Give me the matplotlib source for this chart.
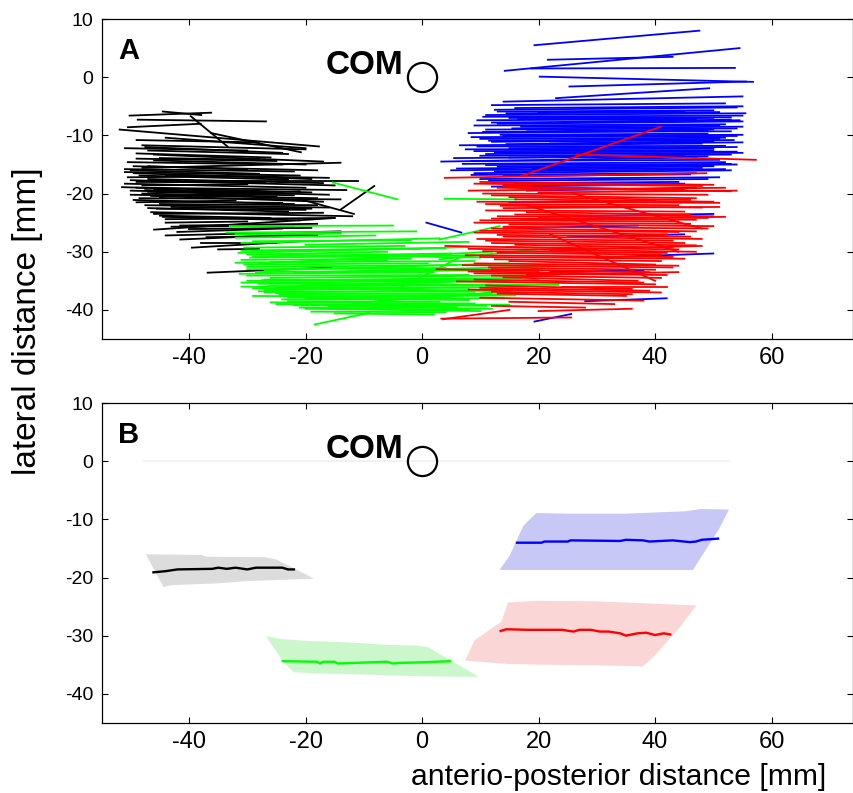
import matplotlib
matplotlib.use("Agg")
import matplotlib.pyplot as plt

plt.rcParams['font.family'] = ['Liberation Sans', 'DejaVu Sans']
plt.rcParams['axes.unicode_minus'] = False

# panel A: single trajectories (x_start, y_start, x_end, y_end) in mm
black_paths = [
    (-50.2, -6.6, -36.2, -6.1), (-44.5, -5.9, -37.9, -6.5), (-48.8, -7.3, -26.8, -7.6),
    (-50.5, -8.6, -38.0, -8.0), (-39.7, -6.7, -33.4, -11.9), (-36.2, -9.6, -20.8, -12.9),
    (-51.9, -9.0, -17.7, -11.9), (-49.0, -10.8, -28.0, -11.2), (-48.0, -11.7, -20.0, -12.4),
    (-47.0, -12.6, -23.0, -13.2), (-46.0, -13.3, -17.0, -14.5), (-49.0, -14.0, -25.0, -14.4),
    (-48.0, -15.6, -14.0, -14.7), (-51.0, -15.8, -22.0, -16.2), (-49.5, -16.5, -19.0, -17.5),
    (-50.5, -17.2, -25.0, -17.0), (-48.0, -17.8, -11.0, -17.8), (-51.0, -18.3, -20.0, -19.0),
    (-49.0, -19.0, -13.0, -19.4), (-47.0, -19.7, -22.0, -20.3), (-50.0, -20.2, -18.0, -20.8),
    (-48.5, -20.8, -14.0, -21.0), (-46.0, -21.4, -24.0, -21.6), (-47.5, -22.0, -16.0, -22.4),
    (-45.5, -22.6, -20.0, -22.8), (-46.5, -23.2, -12.0, -23.9), (-45.0, -23.8, -26.0, -24.2),
    (-44.0, -24.4, -15.0, -24.2), (-41.5, -25.5, -18.0, -25.2), (-46.0, -26.2, -15.0, -24.2),
    (-44.0, -27.2, -14.0, -26.5), (-41.5, -27.9, -14.0, -26.7), (-39.5, -29.3, -21.0, -28.2),
    (-36.8, -33.6, -15.6, -32.7), (-13.9, -22.7, -8.2, -18.7), (-20.8, -21.0, -11.7, -23.5),
    (-50.0, -16.0, -28.0, -16.6), (-48.0, -18.6, -30.0, -18.4), (-46.0, -19.3, -26.0, -19.8),
    (-49.0, -21.5, -32.0, -21.2), (-47.0, -15.3, -30.0, -15.9), (-45.0, -13.9, -28.0, -14.2),
    (-44.0, -25.0, -30.0, -24.8), (-43.0, -22.3, -19.0, -22.6), (-47.0, -17.5, -17.0, -18.2),
    (-45.0, -20.6, -21.0, -19.6), (-42.0, -26.6, -24.0, -26.0), (-49.0, -13.1, -26.0, -13.8),
    (-44.0, -16.8, -16.0, -17.3),
    (-50.5, -14.6, -24.0, -15.0), (-49.5, -15.3, -18.0, -16.0), (-51.0, -16.3, -21.0, -16.9),
    (-48.5, -16.9, -23.0, -17.6), (-50.0, -17.7, -15.0, -18.6), (-49.0, -18.0, -27.0, -18.1),
    (-51.5, -18.9, -19.0, -19.8), (-47.5, -19.4, -16.0, -20.2), (-48.0, -20.0, -25.0, -20.5),
    (-46.5, -20.4, -17.0, -21.4), (-49.5, -21.1, -22.0, -21.8), (-45.0, -21.8, -18.0, -22.0),
    (-47.0, -22.5, -23.0, -23.1), (-46.0, -23.5, -17.0, -23.3), (-44.5, -24.0, -21.0, -24.6),
    (-43.0, -25.7, -22.0, -25.5), (-40.0, -26.1, -19.0, -25.9), (-37.0, -27.5, -18.0, -27.2),
    (-38.0, -28.5, -25.0, -28.5), (-35.0, -29.6, -28.0, -29.5), (-51.0, -12.2, -30.0, -12.6),
    (-47.5, -12.0, -24.0, -13.0), (-44.0, -10.4, -20.0, -12.2), (-46.0, -14.3, -20.0, -15.0),
    (-50.0, -19.5, -30.0, -20.0),
]
green_paths = [
    (-33.5, -26.7, -1.0, -26.5), (-33.0, -25.6, -5.0, -25.5), (-32.0, -27.6, -8.0, -27.2),
    (-31.0, -28.5, 3.0, -27.7), (-30.5, -29.3, -3.0, -29.0), (-31.5, -30.2, 8.0, -29.2),
    (-29.0, -30.8, 5.0, -30.3), (-31.0, -31.4, -2.0, -31.2), (-28.0, -32.0, 12.0, -30.0),
    (-30.0, -32.6, 6.0, -32.3), (-27.0, -33.2, 15.0, -32.0), (-31.3, -33.8, 2.0, -33.5),
    (-26.0, -34.5, 23.0, -34.0), (-30.0, -35.0, 10.0, -34.7), (-28.0, -35.5, 23.4, -35.7),
    (-31.0, -36.0, 8.0, -36.2), (-27.0, -36.6, 18.0, -36.0), (-25.0, -37.1, 12.0, -37.3),
    (-29.0, -37.6, 5.0, -37.8), (-24.0, -38.2, 14.0, -38.0), (-26.0, -38.7, 9.0, -38.9),
    (-22.0, -39.2, 6.0, -39.5), (-20.0, -39.8, 10.0, -40.2), (-18.4, -42.5, -9.0, -40.5),
    (-15.0, -40.6, 2.0, -40.8), (-4.4, -36.5, 7.0, -30.7), (3.0, -27.9, 13.3, -25.6),
    (3.0, -31.3, 19.6, -29.6), (-15.3, -18.1, -4.2, -21.0), (3.9, -20.9, 16.2, -21.0),
    (-28.0, -29.8, 0.0, -29.5), (-26.0, -31.8, 9.0, -31.6), (-30.0, -33.0, 4.0, -32.8),
    (-27.0, -34.8, 14.0, -35.0), (-29.0, -36.3, 0.0, -36.5), (-23.0, -37.9, 16.0, -37.5),
    (-21.0, -35.8, 20.0, -34.8), (-12.0, -39.0, 15.0, -39.1), (-8.0, -38.5, 12.0, -37.0),
    (-32.0, -31.9, -6.0, -31.5), (-25.0, -30.5, 10.0, -31.0), (-20.0, -28.8, 8.0, -28.3),
    (-31.0, -29.8, 4.0, -29.4), (-29.5, -31.0, 9.0, -30.6), (-30.5, -32.2, 1.0, -32.0),
    (-28.5, -33.5, 12.0, -33.2), (-30.0, -34.1, 8.0, -34.0), (-27.5, -34.9, 17.0, -34.5),
    (-31.0, -35.3, 5.0, -35.1), (-26.5, -35.9, 13.0, -35.8), (-28.0, -36.8, 9.0, -36.9),
    (-24.5, -37.4, 7.0, -37.5), (-27.0, -37.0, 20.0, -36.5), (-23.0, -38.5, 3.0, -38.6),
    (-25.0, -39.0, 11.0, -39.3), (-21.0, -39.6, 8.0, -40.0), (-19.0, -40.3, 4.0, -40.4),
    (-29.0, -28.2, -2.0, -28.0), (-32.0, -27.0, -14.0, -26.9), (-30.0, -30.5, -6.0, -30.0),
    (-22.0, -33.6, 22.0, -32.5), (-25.0, -36.2, 15.0, -36.8), (-20.0, -38.0, 8.0, -38.3),
    (-16.0, -39.4, 12.0, -39.8), (-10.0, -37.8, 18.0, -37.2),
]
blue_paths = [
    (19.3, 5.5, 47.6, 8.0), (21.6, 3.0, 43.0, 3.5), (14.2, 1.1, 54.5, 5.0),
    (20.2, 0.1, 56.8, -0.8), (18.8, 1.5, 53.7, 1.6), (25.3, -1.6, 55.6, -0.75),
    (23.0, -3.6, 49.3, -1.9), (14.0, -4.2, 55.0, -3.3), (12.0, -4.8, 52.0, -4.5),
    (16.0, -5.3, 55.0, -5.0), (13.0, -5.9, 50.0, -5.7), (11.0, -6.5, 55.5, -6.2),
    (15.0, -7.0, 53.0, -6.9), (9.5, -7.4, 47.0, -7.2), (13.0, -8.0, 55.0, -7.6),
    (17.0, -8.5, 51.0, -8.3), (11.0, -9.0, 54.0, -8.8), (8.0, -9.6, 49.0, -9.2),
    (14.0, -10.1, 55.0, -9.9), (10.0, -10.6, 52.0, -10.4), (12.0, -11.1, 53.5, -10.8),
    (6.5, -11.7, 48.0, -11.4), (15.0, -12.2, 54.0, -12.0), (9.0, -12.7, 50.0, -12.6),
    (11.0, -13.2, 55.0, -13.0), (3.3, -14.5, 47.0, -13.8), (7.0, -14.9, 52.0, -14.6),
    (13.0, -15.4, 54.0, -15.0), (5.0, -16.0, 48.0, -15.6), (9.0, -16.5, 53.0, -16.0),
    (14.0, -17.0, 46.0, -16.7), (10.0, -17.5, 51.0, -17.2), (16.0, -18.2, 44.0, -18.0),
    (12.0, -18.8, 40.0, -18.5), (18.0, -19.5, 47.0, -19.0), (15.0, -21.5, 40.0, -21.2),
    (20.0, -24.0, 50.0, -23.5), (25.0, -27.5, 45.0, -27.0), (14.0, -26.0, 37.0, -25.5),
    (30.0, -31.0, 50.0, -30.3), (22.0, -33.5, 38.0, -33.2), (19.3, -42.0, 25.6, -40.7),
    (0.75, -25.0, 6.75, -26.7), (28.0, -38.5, 42.0, -38.0), (20.0, -6.0, 45.0, -5.8),
    (18.0, -9.3, 50.0, -9.0), (22.0, -11.4, 50.0, -11.0), (15.0, -13.8, 45.0, -13.5),
    (24.0, -7.7, 53.0, -7.3), (19.0, -15.7, 50.0, -15.2),
    (12.5, -5.6, 54.0, -5.2), (14.5, -6.2, 51.0, -6.0), (10.5, -6.8, 55.0, -6.6),
    (16.5, -7.2, 50.0, -7.0), (12.0, -7.8, 54.5, -7.4), (9.0, -8.3, 52.0, -8.1),
    (15.5, -8.8, 55.0, -8.5), (10.5, -9.4, 53.0, -9.3), (13.5, -9.9, 49.0, -9.7),
    (8.5, -10.3, 54.0, -10.1), (11.5, -10.9, 51.0, -10.6), (14.5, -11.5, 55.0, -11.2),
    (9.5, -11.9, 52.0, -11.8), (7.5, -12.4, 50.0, -12.3), (12.5, -12.9, 54.0, -12.8),
    (10.0, -13.5, 53.0, -13.3), (5.5, -13.9, 49.0, -13.6), (8.5, -14.4, 51.0, -14.2),
    (11.0, -15.1, 53.0, -14.9), (6.0, -15.7, 50.0, -15.3), (12.5, -16.2, 52.0, -15.8),
    (8.5, -16.8, 47.0, -16.5), (11.5, -17.8, 49.0, -17.5), (14.0, -18.5, 45.0, -18.3),
]
red_paths = [
    (26.5, -13.3, 57.3, -14.2), (3.9, -17.3, 48.8, -16.5), (17.0, -17.0, 41.0, -8.5),
    (10.0, -18.0, 50.0, -18.5), (14.0, -18.8, 45.0, -19.3), (8.0, -19.5, 52.0, -19.0),
    (12.0, -20.3, 47.0, -20.8), (16.0, -21.0, 50.0, -21.4), (11.0, -21.8, 44.0, -22.0),
    (14.0, -22.5, 51.0, -22.3), (18.0, -23.2, 46.0, -23.6), (13.0, -23.9, 49.0, -24.2),
    (10.0, -24.6, 44.0, -24.8), (15.0, -25.3, 50.0, -25.6), (12.0, -26.0, 47.0, -26.5),
    (9.0, -26.7, 42.0, -27.0), (14.0, -27.4, 48.0, -27.8), (11.0, -28.1, 45.0, -28.5),
    (16.0, -28.8, 43.0, -29.3), (8.0, -29.5, 47.0, -30.0), (13.0, -30.2, 41.0, -30.5),
    (10.0, -30.9, 45.0, -31.2), (15.0, -31.6, 40.0, -32.2), (7.0, -32.3, 43.0, -32.7),
    (12.0, -33.0, 39.0, -33.5), (9.0, -33.7, 42.0, -34.0), (14.0, -34.4, 37.0, -35.0),
    (6.0, -35.1, 40.0, -35.6), (11.0, -35.8, 36.0, -36.4), (8.0, -36.5, 41.0, -37.0),
    (13.0, -37.2, 35.0, -37.6), (10.0, -37.9, 38.0, -38.4), (15.0, -38.6, 33.0, -39.0),
    (12.0, -39.3, 28.0, -39.6), (3.3, -41.5, 25.6, -41.3), (20.0, -40.2, 36.0, -39.8),
    (22.0, -27.0, 40.0, -35.0), (18.0, -22.0, 44.0, -30.0), (26.0, -20.0, 48.0, -26.0),
    (20.0, -19.8, 54.0, -19.5), (17.0, -24.5, 52.0, -24.0), (22.0, -29.7, 48.0, -29.0),
    (18.0, -34.0, 44.0, -33.5), (24.0, -36.0, 42.0, -36.0), (4.0, -29.0, 30.0, -29.5),
    (2.5, -33.0, 20.0, -33.3), (3.6, -41.6, 15.0, -40.0),
    (9.0, -18.3, 48.0, -18.7), (13.0, -19.0, 53.0, -19.6), (10.5, -20.0, 49.0, -20.2),
    (15.0, -20.6, 46.0, -21.1), (9.5, -21.4, 51.0, -21.6), (13.5, -22.1, 48.0, -22.4),
    (11.0, -22.9, 45.0, -23.1), (16.0, -23.6, 50.0, -23.9), (12.0, -24.3, 47.0, -24.5),
    (9.0, -25.0, 46.0, -25.2), (14.0, -25.7, 49.0, -26.0), (10.0, -26.4, 44.0, -26.6),
    (13.0, -27.1, 46.0, -27.4), (9.5, -27.8, 43.0, -28.1), (12.0, -28.5, 47.0, -28.9),
    (14.5, -29.2, 44.0, -29.6), (10.5, -29.9, 42.0, -30.2), (7.5, -30.6, 43.0, -30.9),
    (12.5, -31.3, 41.0, -31.6), (9.0, -32.0, 44.0, -32.4), (11.5, -32.7, 40.0, -33.1),
    (8.0, -33.4, 38.0, -33.8), (12.0, -34.1, 41.0, -34.5), (9.0, -34.8, 38.0, -35.3),
    (10.0, -36.2, 39.0, -36.7), (12.0, -36.9, 36.0, -37.3),
]

# panel B: mean trajectories
black_mean_x = [-46.1, -44.0, -42.0, -36.0, -35.0, -33.5, -32.0, -30.0, -28.5, -24.0, -23.0, -22.0]
black_mean_y = [-19.1, -18.9, -18.6, -18.5, -18.3, -18.5, -18.3, -18.6, -18.3, -18.3, -18.6, -18.6]
green_mean_x = [-23.9, -18.0, -17.5, -17.0, -15.0, -14.5, -6.0, -5.0, -4.0, 0.0, 4.75]
green_mean_y = [-34.4, -34.5, -34.8, -34.5, -34.5, -34.8, -34.5, -34.8, -34.7, -34.6, -34.4]
blue_mean_x = [16.3, 20.5, 21.0, 25.0, 25.5, 34.0, 35.0, 38.0, 39.0, 43.0, 46.0, 47.0, 48.0, 50.8]
blue_mean_y = [-14.0, -14.0, -13.8, -13.8, -13.6, -13.7, -13.5, -13.6, -13.8, -13.6, -13.9, -13.8, -13.5, -13.3]
red_mean_x = [13.5, 14.5, 18.0, 24.0, 26.0, 27.0, 29.0, 30.5, 32.0, 34.0, 35.0, 37.0, 38.5, 40.0, 41.5, 42.6]
red_mean_y = [-29.2, -28.9, -29.0, -29.0, -29.3, -29.0, -29.0, -29.3, -29.3, -29.6, -30.0, -29.6, -29.5, -29.9, -29.6, -29.8]

# panel B: spread bands (polygon outlines)
black_band_x = [-47.4, -38.0, -37.0, -27.0, -25.0, -18.5, -30.0, -35.0, -43.0, -44.4]
black_band_y = [-16.0, -16.1, -16.4, -16.5, -16.9, -20.2, -20.6, -21.0, -21.3, -21.6]
green_band_x = [-26.75, -24.0, -20.0, -12.0, -6.0, -1.0, 1.0, 9.8, 0.0, -10.0, -18.0, -22.0, -23.8]
green_band_y = [-30.1, -30.6, -30.9, -31.2, -31.6, -31.7, -32.0, -37.1, -37.0, -36.7, -36.5, -36.3, -34.6]
blue_band_x = [19.6, 25.0, 35.0, 40.0, 45.0, 48.0, 52.7, 51.0, 46.5, 13.3, 15.0, 17.4]
blue_band_y = [-8.9, -9.0, -9.0, -8.8, -8.6, -8.2, -8.3, -11.6, -18.7, -18.7, -16.3, -11.1]
red_band_x = [14.75, 20.0, 30.0, 40.0, 47.1, 44.2, 39.6, 37.8, 30.0, 20.0, 15.0, 7.4, 9.0, 13.6]
red_band_y = [-24.3, -24.0, -24.1, -24.5, -24.8, -28.6, -33.8, -35.3, -35.1, -35.0, -34.9, -34.3, -30.8, -27.6]

fig = plt.figure(figsize=(8.54, 7.93), dpi=100)
axA = fig.add_axes([0.119, 0.5725, 0.880, 0.4035])
axB = fig.add_axes([0.119, 0.0886, 0.880, 0.4028])

for paths, col in [(black_paths, 'k'), (green_paths, '#00ff00'),
                   (blue_paths, '#0000ff'), (red_paths, '#ff0000')]:
    for x0, y0, x1, y1 in paths:
        axA.plot([x0, x1], [y0, y1], color=col, lw=1.3)

axB.plot([-47.7, 52.7], [0, 0], color='#f4f1f6', lw=1.5)
for bx, by, fc in [(black_band_x, black_band_y, '#dcdcdc'),
                   (green_band_x, green_band_y, '#ccf6cc'),
                   (blue_band_x, blue_band_y, '#c8c8f6'),
                   (red_band_x, red_band_y, '#fbd6d6')]:
    axB.fill(bx, by, facecolor=fc, edgecolor='none')
axB.plot(black_mean_x, black_mean_y, color='k', lw=1.7)
axB.plot(green_mean_x, green_mean_y, color='#00ff00', lw=1.7)
axB.plot(blue_mean_x, blue_mean_y, color='#0000ff', lw=1.7)
axB.plot(red_mean_x, red_mean_y, color='#ff0000', lw=1.7)

for ax, lab in [(axA, 'A'), (axB, 'B')]:
    ax.set_xlim(-55, 74)
    ax.set_ylim(-45, 10)
    ax.set_xticks([-40, -20, 0, 20, 40, 60])
    ax.set_yticks([10, 0, -10, -20, -30, -40])
    ax.tick_params(direction='in', top=True, right=True, length=4.5, width=0.8)
    ax.tick_params(axis='x', labelsize=17, pad=6)
    ax.tick_params(axis='y', labelsize=14, pad=6)
    for s in ax.spines.values():
        s.set_linewidth(0.9)
    ax.text(-52.2, 3.1, lab, fontsize=21, fontweight='bold')
    ax.text(-16.5, 0.5, 'COM', fontsize=24, fontweight='bold')
    ax.plot([0], [0], marker='o', ms=21, mfc='none', mec='k', mew=1.6)

fig.text(0.032, 0.595, 'lateral distance [mm]', rotation=90, fontsize=24,
         ha='center', va='center')
fig.text(0.724, 0.010, 'anterio-posterior distance [mm]', fontsize=21.7,
         ha='center', va='baseline')

fig.savefig('out.png', dpi=100)
